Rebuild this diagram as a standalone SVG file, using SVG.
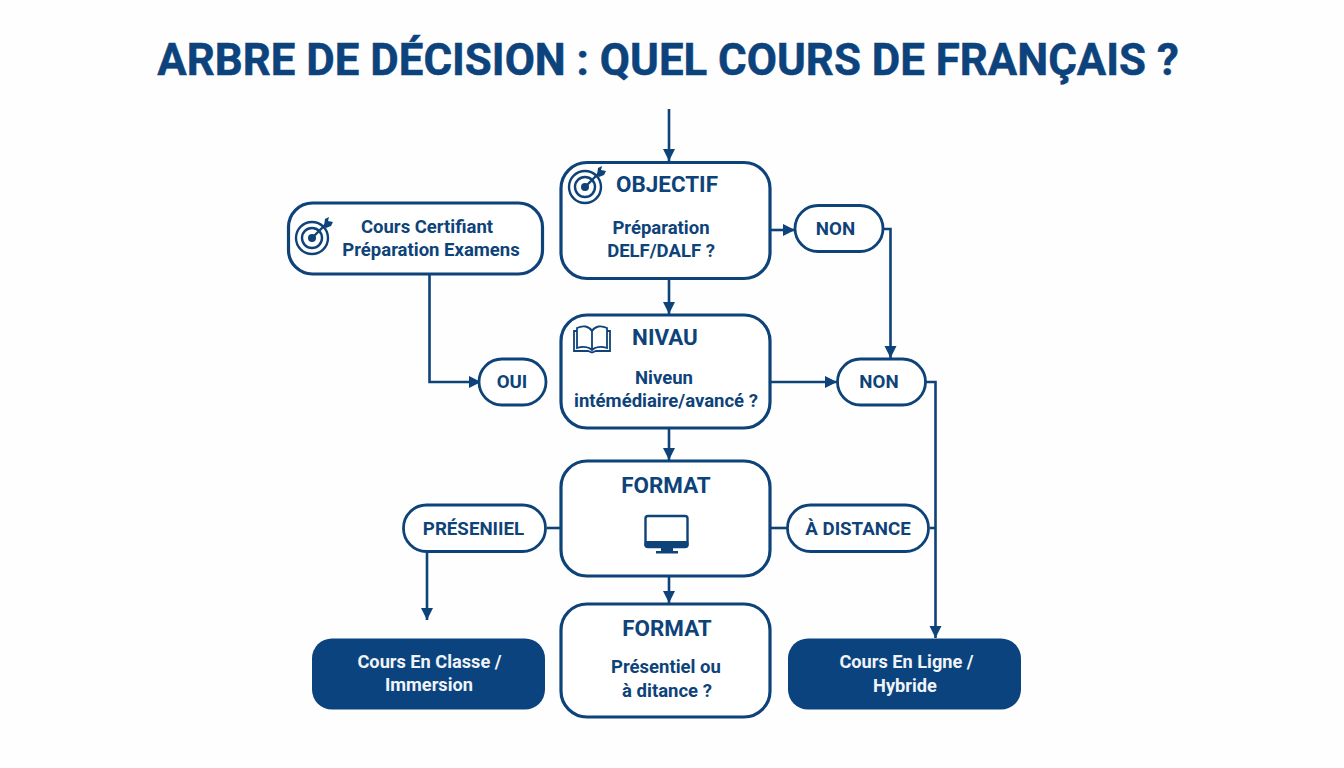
<svg xmlns="http://www.w3.org/2000/svg" width="1344" height="768" viewBox="0 0 1344 768">
<style>
text{font-family:Roboto,"Liberation Sans",sans-serif;font-weight:700;fill:#0e4379;text-anchor:middle}
.t{font-size:43.800px;fill:#0c437c;stroke:#0c437c;stroke-width:.5}
.h{font-size:22.400px}
.b{font-size:18.500px}
.p{font-size:18.700px}
.w{fill:#f0f4f8;font-size:18.200px}
.box{fill:#fff;stroke:#0e4379;stroke-width:3.200}
.pill{fill:#fff;stroke:#0e4379;stroke-width:2.800}
.dark{fill:#0a437e}
.c{fill:none;stroke:#0e4379;stroke-width:2.600}
.i{fill:none;stroke:#0e4379;stroke-width:2.400}
.f{fill:#0e4379}
</style>
<defs>
<marker id="a" markerUnits="userSpaceOnUse" markerWidth="13" markerHeight="14" refX="12" refY="7" orient="auto"><path d="M0 1L12 7L0 13Z" fill="#0e4379"/></marker>
<g id="target"><circle cx="0" cy="0" r="16" class="i"/><circle cx="0" cy="0" r="10" class="i"/><circle cx="0" cy="0" r="4" class="f"/><path d="M0 0L15 -15" class="i"/><path d="M12 -12L13 -19L17 -21L16 -17L21 -16L19 -12L14 -10Z" class="f"/></g>
</defs>
<rect width="1344" height="768" fill="#fefefe"/>
<text class="t" x="668" y="75">ARBRE DE DÉCISION : QUEL COURS DE FRANÇAIS ?</text>
<g id="connectors">
<path class="c" d="M669 109V161" marker-end="url(#a)"/>
<path class="c" d="M669 279V314" marker-end="url(#a)"/>
<path class="c" d="M669 428V460" marker-end="url(#a)"/>
<path class="c" d="M669 576V603" marker-end="url(#a)"/>
<path class="c" d="M770 230H795" marker-end="url(#a)"/>
<path class="c" d="M884 229H890.500V358" marker-end="url(#a)"/>
<path class="c" d="M770 382H837" marker-end="url(#a)"/>
<path class="c" d="M926 382H935.500V638" marker-end="url(#a)"/>
<path class="c" d="M770 528H788"/>
<path class="c" d="M930 528H935"/>
<path class="c" d="M547 528H561"/>
<path class="c" d="M427 552V620" marker-end="url(#a)"/>
<path class="c" d="M429.500 275V382H481" marker-end="url(#a)"/>
</g>
<g id="node-objectif">
<rect class="box" x="561" y="162.500" width="209" height="116" rx="26"/>
<use href="#target" x="585" y="187"/>
<text class="h" x="667" y="192">OBJECTIF</text>
<text class="b" x="661" y="234">Préparation</text>
<text class="b" x="661" y="257">DELF/DALF ?</text>
</g>
<g id="node-certifiant">
<rect class="box" x="288.500" y="203" width="254" height="71" rx="24"/>
<use href="#target" x="312" y="238"/>
<text class="b" x="427" y="233">Cours Certifiant</text>
<text class="b" x="431" y="256">Préparation Examens</text>
</g>
<g id="node-non-1">
<rect class="pill" x="795" y="205.500" width="88" height="46" rx="23"/>
<text class="p" x="835.500" y="235">NON</text>
</g>
<g id="node-niveau">
<rect class="box" x="561" y="315" width="209" height="113" rx="26"/>
<path class="i" stroke-width="1.800" style="stroke-width:1.800" d="M577 348V328C583 325 589 326 592 331C595 326 601 325 607 328V348C601 346 595 347 592 350C589 347 583 346 577 348ZM592 331V350M577 331H574V351H588L592 352.500L596 351H610V331H607"/>
<text class="h" x="665" y="345">NIVAU</text>
<text class="b" x="664" y="384">Niveun</text>
<text class="b" x="666" y="407">intémédiaire/avancé ?</text>
</g>
<g id="node-oui">
<rect class="pill" x="479" y="359" width="67" height="46" rx="23"/>
<text class="p" x="512" y="388">OUI</text>
</g>
<g id="node-non-2">
<rect class="pill" x="837.500" y="359" width="88" height="46" rx="23"/>
<text class="p" x="879" y="388">NON</text>
</g>
<g id="node-format-1">
<rect class="box" x="561" y="461" width="209" height="115" rx="26"/>
<text class="h" x="666" y="493">FORMAT</text>
<rect x="645.500" y="516" width="42" height="31" rx="2.500" class="i"/>
<rect x="644.500" y="541" width="44" height="6.500" rx="2" class="f"/>
<rect x="661" y="547" width="12" height="4" class="f"/>
<rect x="656" y="551" width="22" height="2.500" class="f"/>
</g>
<g id="node-presentiel">
<rect class="pill" x="403.500" y="505" width="142" height="46.500" rx="23"/>
<text class="p" x="473.500" y="535">PRÉSENIIEL</text>
</g>
<g id="node-distance">
<rect class="pill" x="787.500" y="505" width="141" height="46.500" rx="23"/>
<text class="p" x="858" y="535">À DISTANCE</text>
</g>
<g id="node-format-2">
<rect class="box" x="561" y="604" width="209" height="113" rx="26"/>
<text class="h" x="667" y="636">FORMAT</text>
<text class="b" x="666" y="673">Présentiel ou</text>
<text class="b" x="667" y="697">à ditance ?</text>
</g>
<g id="node-classe">
<rect class="dark" x="312" y="638.500" width="233" height="71" rx="20"/>
<text class="w" x="429.500" y="668">Cours En Classe /</text>
<text class="w" x="429" y="691">Immersion</text>
</g>
<g id="node-ligne">
<rect class="dark" x="788" y="638.500" width="233" height="71" rx="20"/>
<text class="w" x="906.500" y="668">Cours En Ligne /</text>
<text class="w" x="905" y="692">Hybride</text>
</g>
</svg>
